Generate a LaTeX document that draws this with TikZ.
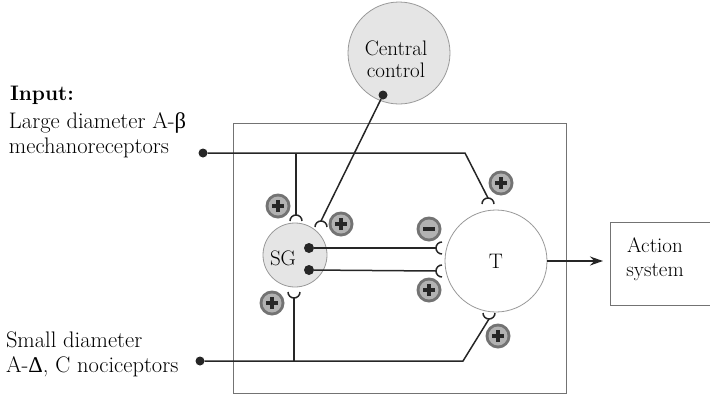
\documentclass[tikz,border=0pt]{standalone}
\usepackage{fontspec}
\newfontfamily\grk{Liberation Serif}
\usetikzlibrary{arrows.meta}

\begin{document}
\begin{tikzpicture}[x=1pt,y=-1pt,
  every node/.style={font=\fontsize{21}{25}\selectfont, inner sep=0pt, outer sep=0pt},
  label/.style={anchor=base west, font=\fontsize{22.5}{26}\selectfont},
  ctext/.style={anchor=base},
  wire/.style={line width=1.5pt, draw=black!85},
  frame/.style={draw=black!55, line width=0.9pt},
  cell/.style={circle, draw=black!40, line width=0.8pt, inner sep=0pt},
  tip/.style={circle, fill=black!85, minimum size=9pt, inner sep=0pt},
  pics/cup/.style={code={\draw[wire] (6,6) arc[start angle=90,end angle=270,radius=6];}},
  pics/badge/.style={code={
    \fill[black!55] (0,0) circle[radius=12.5];
    \fill[black!30] (0,0) circle[radius=9.5];
    \draw[line width=3.2pt, black!85] (-6,0) -- (6,0);
    \if#1p\draw[line width=3.2pt, black!85] (0,-6) -- (0,6);\fi}},
]
\useasboundingbox (0,0) rectangle (710,399);
\clip (0,0) rectangle (710,399);

% outer frame of the gate-control circuit
\draw[frame] (233,123) rectangle (566,393);

% cells
\node[cell, fill=black!10, minimum size=102pt] (cc) at (399,53) {};
\node[cell, fill=black!10, minimum size=64pt] (sg) at (295,255) {};
\node[cell, fill=white, minimum size=102pt] (t) at (496,261) {};
\node[ctext] (cct1) at (396,55) {Central};
\node[ctext] (cct2) at (396,77) {control};
\node[ctext] (sgt) at (283,265) {SG};
\node[ctext] (tt) at (496,268) {T};

% action system box
\draw[frame] (610,222) -- (730,222) (610,222) -- (610,305) -- (730,305);
\node[ctext] (act1) at (655,252) {Action};
\node[ctext] (act2) at (655,276) {system};

% input labels
\node[label, font=\fontsize{21}{25}\selectfont\bfseries] (inp) at (10,100) {Input:};
\node[label] (lg1) at (9,128) {Large diameter A-{\grk β}};
\node[label] (lg2) at (9,153) {mechanoreceptors};
\node[label] (sm1) at (6,347) {Small diameter};
\node[label] (sm2) at (6,372) {A-{\grk Δ}, C nociceptors};

% fibre endings
\node[tip] (din1) at (203,153) {};
\node[tip] (din2) at (200,361) {};
\node[tip] (dcc) at (383,95) {};
\node[tip, minimum size=10pt] (dsg1) at (309,248) {};
\node[tip, minimum size=10pt] (dsg2) at (309,270) {};

% synaptic cups (apex points)
\coordinate (csgtop) at (296,215);
\coordinate (ccc) at (321,221);
\coordinate (csgbot) at (294,298);
\coordinate (cttop) at (488,198);
\coordinate (ctbot) at (489,319);
\coordinate (ctl1) at (436,248);
\coordinate (ctl2) at (436,271);
\coordinate (bend1) at (465,153);
\coordinate (bend2) at (463,361);
\coordinate (j1) at (296,153);
\coordinate (j2) at (294,361);

\pic[rotate=-90] at (csgtop) {cup};
\pic[rotate=-90] at (ccc) {cup};
\pic[rotate=90] at (csgbot) {cup};
\pic[rotate=-90] at (cttop) {cup};
\pic[rotate=90] at (ctbot) {cup};
\pic at (ctl1) {cup};
\pic at (ctl2) {cup};

% fibres
\draw[wire] (din1) -- (bend1) -- (cttop);
\draw[wire] (j1) -- (csgtop);
\draw[wire] (din2) -- (bend2) -- (ctbot);
\draw[wire] (j2) -- (csgbot);
\draw[wire] (dcc) -- (ccc);
\draw[wire] (dsg1) -- (ctl1);
\draw[wire] (dsg2) -- (ctl2);
\draw[wire, -{Stealth[length=13pt, width=9pt]}] (t.east) -- (603,261) coordinate (arr);

% excitatory / inhibitory signs
\pic at (278,206) {badge=p};
\pic at (341,224) {badge=p};
\pic at (501,183) {badge=p};
\pic at (429,229) {badge=m};
\pic at (429,290) {badge=p};
\pic at (272,303) {badge=p};
\pic at (498,336) {badge=p};
\end{tikzpicture}
\end{document}
